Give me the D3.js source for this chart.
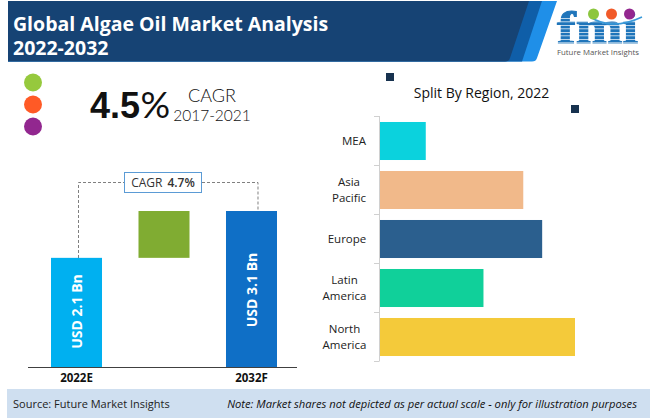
<!DOCTYPE html>
<html>
<head>
<meta charset="utf-8">
<script src="https://cdn.jsdelivr.net/npm/d3@7"></script>
<style>
body{margin:0;background:#fff;overflow:hidden}
svg{display:block}
text{font-family:"Open Sans",sans-serif}
</style>
</head>
<body>
<div id="chart"></div>
<script>
//market size bars
var marketYears=['2022E','gap','2032F'];
var marketStart=[0,2.1,0];
var marketEnd=[2.1,3.1,3.1];
var marketLabels=['USD 2.1 Bn','','USD 3.1 Bn'];
var marketColors=['#00b0f0','#80ac32','#0f6fc6'];

//region bars, picture does not give numbers so these are read off bar lengths
var regions=['MEA','Asia Pacific','Europe','Latin America','North America'];
var regionValues=[46,144,163,104,196];
var regionColors=['#0bd2dd','#f1b98a','#2b5f8e','#10d09a','#f4ca3a'];
var regionLabelX=[354,349,347,344.5,344.5];

var dots=['#96c93d','#ff5a26','#92278f'];
var logoDots=['#8cc63f','#f15a29','#93278f'];

var svg=d3.select('#chart').append('svg')
    .attr('width',650)
    .attr('height',418);

//header banner
svg.append('path').attr('d','M8 1H557L537 58Q536 61.5 532 61.5H8Z').attr('fill','#1f8fe8');
svg.append('path').attr('d','M8 1H542L522 61.5H8Z').attr('fill','#0f5ea8');
svg.append('path').attr('d','M8 1H529L510 58Q509 61.5 505 61.5H8Z').attr('fill','#164374');

svg.append('text').attr('x',13).attr('y',31)
    .attr('font-size',19.5).attr('font-weight',700).attr('fill','#fff')
    .text('Global Algae Oil Market Analysis');
svg.append('text').attr('x',13).attr('y',55)
    .attr('font-size',19.5).attr('font-weight',700).attr('fill','#fff')
    .text('2022-2032');

//logo
var logo=svg.append('g');
logo.append('text').attr('x',557).attr('y',43)
    .attr('font-size',46).attr('font-weight',700).attr('fill','#1f75ba')
    .attr('stroke','#1f75ba').attr('stroke-width',1)
    .attr('textLength',81).attr('lengthAdjust','spacingAndGlyphs')
    .style('font-family','"Liberation Serif",serif')
    .text('fmi');
d3.range(18,44,3.5).forEach(function(y){
    logo.append('rect').attr('x',555).attr('y',y).attr('width',86).attr('height',0.7).attr('fill','#fff');
});
logo.append('path').attr('d','M590 17Q612 31 642 17')
    .attr('fill','none').attr('stroke','#3a9ad9').attr('stroke-width',1.5);
logo.selectAll('circle').data(logoDots).enter().append('circle')
    .attr('cx',function(d,i){return 593.5+i*18;})
    .attr('cy',14)
    .attr('r',5.5)
    .attr('fill',function(d){return d;});
logo.append('text').attr('x',557).attr('y',54.5)
    .attr('font-size',7.4).attr('fill','#555')
    .attr('textLength',82).attr('lengthAdjust','spacingAndGlyphs')
    .text('Future Market Insights');

//three dots and headline
svg.selectAll('.dot').data(dots).enter().append('circle')
    .attr('class','dot')
    .attr('cx',33)
    .attr('cy',function(d,i){return 82.5+i*22;})
    .attr('r',9)
    .attr('fill',function(d){return d;});

svg.append('text').attr('x',90).attr('y',117.5)
    .attr('font-size',36).attr('font-weight',700).attr('fill','#111')
    .style('font-family','"Liberation Sans",sans-serif')
    .text('4.5');
svg.append('text').attr('x',140.5).attr('y',118)
    .attr('font-size',37).attr('fill','#111')
    .style('font-family','Lato,sans-serif')
    .text('%');
svg.append('text').attr('x',212).attr('y',102)
    .attr('font-size',18).attr('fill','#111').attr('text-anchor','middle')
    .style('font-family','Lato,sans-serif').style('font-weight',300)
    .text('CAGR');
svg.append('text').attr('x',212).attr('y',121)
    .attr('font-size',15.5).attr('fill','#111').attr('text-anchor','middle')
    .style('font-family','Lato,sans-serif').style('font-weight',300)
    .text('2017-2021');

//left chart
var xMarket=d3.scaleBand()
    .domain(marketYears)
    .range([51,277])
    .paddingInner(0.417)
    .paddingOuter(0);
var yMarket=d3.scaleLinear()
    .domain([-0.23,3.1])
    .range([367,211]);

svg.append('path')
    .attr('d','M'+(xMarket('2022E')+27.5)+' 258V182.5H125M202 182.5H'+(xMarket('2032F')+32)+'V211')
    .attr('fill','none').attr('stroke','#808080').attr('stroke-dasharray','3 2');

svg.selectAll('.mbar').data(marketYears).enter().append('rect')
    .attr('class','mbar')
    .attr('x',function(d){return xMarket(d);})
    .attr('width',xMarket.bandwidth())
    .attr('y',function(d,i){return yMarket(marketEnd[i]);})
    .attr('height',function(d,i){
        var base=marketStart[i]===0?yMarket.range()[0]:yMarket(marketStart[i]);
        return base-yMarket(marketEnd[i]);
    })
    .attr('fill',function(d,i){return marketColors[i];});

svg.selectAll('.mlabel').data(marketYears).enter().append('text')
    .attr('class','mlabel')
    .attr('transform',function(d,i){
        var cy=i===0?311.5:290;
        return 'translate('+(xMarket(d)+xMarket.bandwidth()/2)+','+cy+') rotate(-90)';
    })
    .attr('text-anchor','middle').attr('dy','0.36em')
    .attr('font-size',14).attr('font-weight',700).attr('fill','#fff')
    .text(function(d,i){return marketLabels[i];});

var xAxisMarket=d3.axisBottom(xMarket).tickSize(0).tickPadding(6)
    .tickFormat(function(d){return d==='gap'?'':d;});
var gx=svg.append('g').attr('transform','translate(0,367.5)').call(xAxisMarket);
gx.select('.domain').remove();
gx.selectAll('text').attr('font-size',11.5).attr('font-weight',700).attr('fill','#111')
    .style('font-family','"Open Sans",sans-serif');
svg.append('line').attr('x1',28).attr('x2',297).attr('y1',367.5).attr('y2',367.5)
    .attr('stroke','#404040');

svg.append('rect').attr('x',124.5).attr('y',172.5).attr('width',77).attr('height',20)
    .attr('fill','#fff').attr('stroke','#5b9bd5');
var cagrBox=svg.append('text').attr('x',163).attr('y',187).attr('text-anchor','middle')
    .attr('font-size',12).attr('fill','#333');
cagrBox.append('tspan').text('CAGR');
cagrBox.append('tspan').attr('dx',5).attr('font-weight',600).text('4.7%');

//right chart
svg.append('rect').attr('x',386).attr('y',73).attr('width',8).attr('height',8).attr('fill','#17324f');
svg.append('rect').attr('x',571).attr('y',105).attr('width',8).attr('height',8).attr('fill','#17324f');
svg.append('text').attr('x',481.5).attr('y',98).attr('text-anchor','middle')
    .attr('font-size',14).attr('fill','#111')
    .text('Split By Region, 2022');

var yRegion=d3.scaleBand()
    .domain(regions)
    .range([116.5,361.5])
    .paddingInner(0.224)
    .paddingOuter(0.112);
var xRegion=d3.scaleLinear()
    .domain([0,196])
    .range([380,575]);

svg.selectAll('.rbar').data(regions).enter().append('rect')
    .attr('class','rbar')
    .attr('x',xRegion(0))
    .attr('y',function(d){return yRegion(d);})
    .attr('width',function(d,i){return xRegion(regionValues[i])-xRegion(0);})
    .attr('height',yRegion.bandwidth())
    .attr('fill',function(d,i){return regionColors[i];});

//axis line with ticks between the bands
var step=yRegion.step();
svg.append('line').attr('x1',379.5).attr('x2',379.5).attr('y1',116).attr('y2',361)
    .attr('stroke','#d0d0d0');
svg.selectAll('.rtick').data(d3.range(regions.length+1)).enter().append('line')
    .attr('class','rtick')
    .attr('x1',374).attr('x2',379.5)
    .attr('y1',function(d){return 116.5+d*step;})
    .attr('y2',function(d){return 116.5+d*step;})
    .attr('stroke','#d0d0d0');

svg.selectAll('.rlabel').data(regions).enter().append('text')
    .attr('class','rlabel')
    .attr('text-anchor','middle')
    .attr('font-size',11.5).attr('fill','#222')
    .each(function(d,n){
        var words=d.split(' ');
        var cy=yRegion(d)+yRegion.bandwidth()/2;
        d3.select(this).selectAll('tspan').data(words).enter().append('tspan')
            .attr('x',regionLabelX[n])
            .attr('y',function(w,i){return cy+4-(words.length-1)*8+i*16;})
            .text(function(w){return w;});
    });

//footer
svg.append('rect').attr('x',7).attr('y',389).attr('width',643).attr('height',29).attr('fill','#cfdff0');
svg.append('text').attr('x',13).attr('y',408)
    .attr('font-size',11).attr('fill','#222')
    .text('Source: Future Market Insights');
svg.append('text').attr('x',637).attr('y',408).attr('text-anchor','end')
    .attr('font-size',11.2).attr('font-style','italic').attr('fill','#111')
    .text('Note: Market shares not depicted as per actual scale - only for illustration purposes');
</script>
</body>
</html>
